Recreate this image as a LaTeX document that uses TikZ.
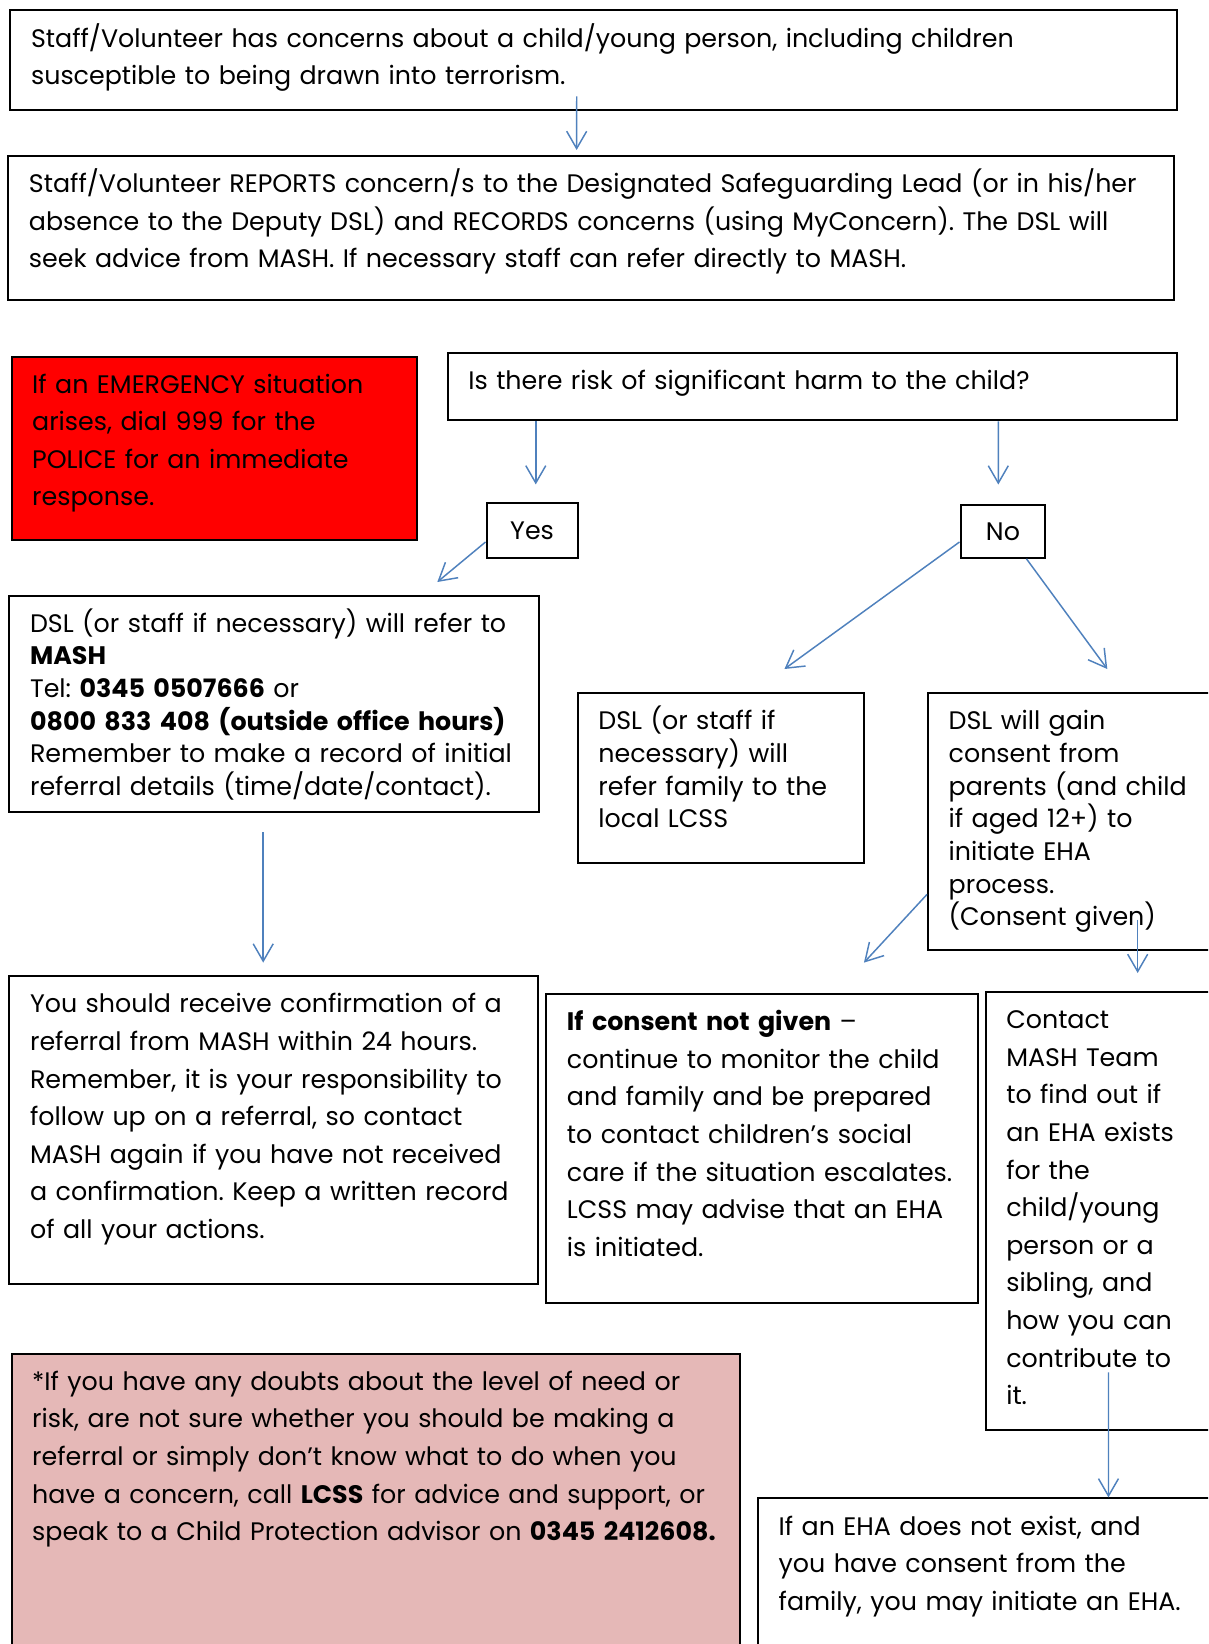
\documentclass[tikz,border=0pt]{standalone}
\usepackage{fontspec}
\setmainfont{Poppins}
\usepackage{tikz}
\usetikzlibrary{arrows.meta}

\definecolor{arrowblue}{HTML}{4F81BD}
\definecolor{alarmred}{HTML}{FF0000}
\definecolor{notepink}{HTML}{E5B8B7}
\frenchspacing

\begin{document}
\begin{tikzpicture}
		[x = 0.75pt, y = -0.75pt,
		 box/.style = {draw, line width = 1.5pt, anchor = north west, align = left,
		               inner xsep = 15.5pt, inner ysep = 0pt, text height = 27.5pt,
		               font = \fontsize{19pt}{28.2pt}\selectfont},
		 tight/.style = {font = \fontsize{19pt}{24.5pt}\selectfont},
		 answer/.style = {draw, line width = 1.5pt, anchor = north west,
		               font = \fontsize{19pt}{22pt}\selectfont},
		 arr/.style = {draw = arrowblue, line width = 1.1pt,
		               -{Straight Barb[length = 13pt, width = 15pt]}}]
			\clip (0,0) rectangle (1208,1644);
			\fill[white] (0,0) rectangle (1208,1644);
			% top of the chart
			\node[box, text width = 843.6pt, text depth = 47.2pt] (concern) at (9.4,9.4)
				{Staff/Volunteer has concerns about a child/young person, including children\\
				 susceptible to being drawn into terrorism.};
			\node[box, text width = 843.6pt, text depth = 80.5pt] (report) at (7.3,155)
				{Staff/Volunteer REPORTS concern/s to the Designated Safeguarding Lead (or in his/her\\
				 absence to the Deputy DSL) and RECORDS concerns (using MyConcern). The DSL will\\
				 seek advice from MASH. If necessary staff can refer directly to MASH.};
			\node[box, fill = alarmred, text width = 273.4pt, text depth = 110.1pt] (emergency) at (10.5,355.5)
				{If an EMERGENCY situation\\ arises, dial 999 for the\\ POLICE for an immediate\\ response.};
			\node[box, text width = 515.6pt, text depth = 22.8pt] (risk) at (446.7,352.3)
				{Is there risk of significant harm to the child?};
			\node[answer, minimum width = 68.4pt, minimum height = 40.9pt] (yes) at (485.5,502.3) {Yes};
			\node[answer, minimum width = 63.7pt, minimum height = 39.3pt] (no) at (959.5,504.4) {No};
			% middle row
			\node[box, tight, text width = 366.2pt, text depth = 134.5pt] (mash) at (8.4,594.6)
				{DSL (or staff if necessary) will refer to\\ \textbf{MASH}\\
				 Tel: \textbf{0345 0507666} or\\ \textbf{0800 833 408 (outside office hours)}\\
				 Remember to make a record of initial\\ referral details (time/date/contact).};
			\node[box, tight, text width = 183.7pt, text depth = 100pt] (lcss) at (576.7,692)
				{DSL (or staff if\\ necessary) will\\ refer family to the\\ local LCSS};
			\node[box, tight, text width = 194pt, text depth = 165.3pt] (consent) at (927,692)
				{DSL will gain\\ consent from\\ parents (and child\\ if aged 12+) to\\ initiate EHA\\
				 process.\\ (Consent given)};
			% lower row
			\node[box, text width = 365.4pt, text depth = 203.7pt] (confirm) at (8.4,975.2)
				{You should receive confirmation of a\\ referral from MASH within 24 hours.\\
				 Remember, it is your responsibility to\\ follow up on a referral, so contact\\
				 MASH again if you have not received\\ a confirmation. Keep a written record\\
				 of all your actions.};
			\node[box, text width = 293pt, text depth = 203.9pt] (notgiven) at (545.3,993)
				{\textbf{If consent not given} --\\ continue to monitor the child\\
				 and family and be prepared\\ to contact children’s social\\
				 care if the situation escalates.\\ LCSS may advise that an EHA\\ is initiated.};
			\node[box, text width = 149pt, text depth = 301.2pt] (contact) at (984.6,991)
				{Contact\\ MASH Team\\ to find out if\\ an EHA exists\\ for the\\ child/young\\
				 person or a\\ sibling, and\\ how you can\\ contribute to\\ it.};
			\node[box, fill = notepink, text width = 515.6pt, text depth = 214pt] (doubts) at (10.5,1352.7)
				{*If you have any doubts about the level of need or\\
				 risk, are not sure whether you should be making a\\
				 referral or simply don’t know what to do when you\\
				 have a concern, call \textbf{LCSS} for advice and support, or\\
				 speak to a Child Protection advisor on \textbf{0345 2412608.}};
			\node[box, text width = 321pt, text depth = 101.5pt] (eha) at (757,1497.4)
				{If an EHA does not exist, and\\ you have consent from the\\ family, you may initiate an EHA.};
			% arrows
			\draw[arr] ([xshift = 425.5pt, yshift = 11pt]concern.south west) -- ([xshift = 427pt, yshift = 3.75pt]report.north west);
			\draw[arr] ([xshift = 66.8pt]risk.south west) -- ([xshift = 37.7pt, yshift = 13.4pt]yes.north west);
			\draw[arr] ([xshift = 413.7pt]risk.south west) -- ([xshift = 29.1pt, yshift = 14.9pt]no.north west);
			\draw[arr] ([yshift = 12.6pt]yes.south west) -- ([xshift = 321.7pt, yshift = 9.45pt]mash.north west);
			\draw[arr] ([yshift = 12.6pt]no.south west) -- ([xshift = 155.8pt, yshift = 17.25pt]lcss.north west);
			\draw[arr] ([xshift = 17.6pt]no.south) -- ([xshift = 135.2pt, yshift = 17.25pt]consent.north west);
			\draw[arr] ([xshift = 191.1pt, yshift = -14.9pt]mash.south west) -- ([xshift = 191.1pt, yshift = 9.45pt]confirm.north west);
			\draw[arr] ([yshift = 42.5pt]consent.south west) -- ([xshift = 239pt, yshift = 22.8pt]notgiven.north west);
			\draw[arr] ([xshift = 158pt, yshift = 23.6pt]consent.south west) -- ([xshift = 114.8pt, yshift = 13.5pt]contact.north west);
			\draw[arr] ([xshift = 92.9pt, yshift = 44.1pt]contact.south west) -- ([xshift = 263.6pt]eha.north west);
	\end{tikzpicture}
\end{document}
